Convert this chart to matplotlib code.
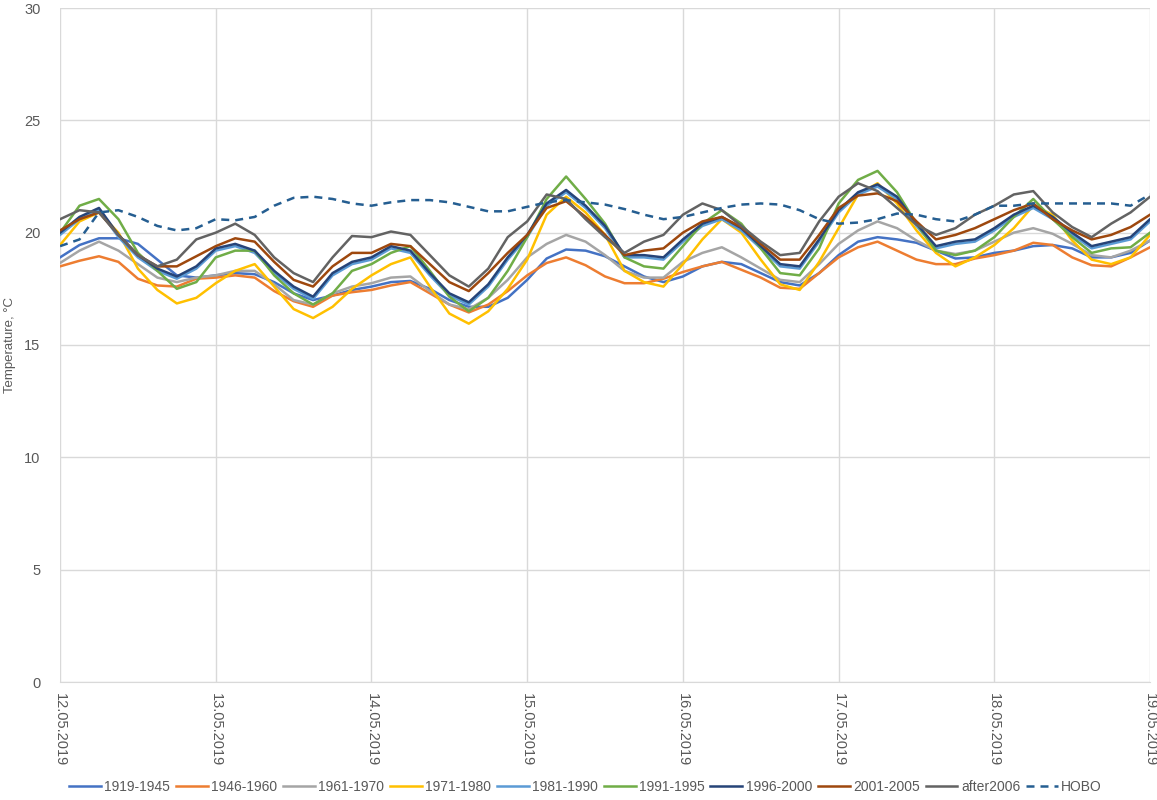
import numpy as np
import pandas as pd
import matplotlib
matplotlib.use("Agg")
import matplotlib.pyplot as plt

plt.rcParams["font.family"] = ["Liberation Sans", "DejaVu Sans"]

# ---------------- Data (3-hourly readings, 12.05.2019 00:00 -> 19.05.2019 00:00) ----------------
times = pd.date_range("2019-05-12 00:00", "2019-05-19 00:00", freq="3h")

t_1919_1945 = [18.9, 19.45, 19.75, 19.75, 19.5, 18.8, 18.1, 18.0, 18.1, 18.2, 18.15, 17.8, 17.3, 17.0, 17.2,
               17.45, 17.6, 17.8, 17.85, 17.5, 17.0, 16.7, 16.7, 17.1, 17.9, 18.85, 19.25, 19.2, 18.95, 18.5,
               18.05, 17.8, 18.05, 18.5, 18.7, 18.6, 18.2, 17.8, 17.65, 18.2, 19.0, 19.6, 19.8, 19.7, 19.55,
               19.2, 18.85, 18.9, 19.1, 19.2, 19.4, 19.45, 19.3, 18.9, 18.9, 19.1, 19.65]
t_1946_1960 = [18.5, 18.75, 18.95, 18.7, 17.95, 17.65, 17.6, 17.95, 18.0, 18.1, 18.0, 17.4, 16.95, 16.7, 17.2,
               17.35, 17.45, 17.65, 17.8, 17.3, 16.8, 16.45, 16.8, 17.4, 18.1, 18.65, 18.9, 18.55, 18.05, 17.75,
               17.75, 17.95, 18.25, 18.5, 18.7, 18.35, 18.0, 17.55, 17.5, 18.2, 18.9, 19.35, 19.6, 19.2, 18.8,
               18.6, 18.6, 18.85, 19.0, 19.2, 19.55, 19.45, 18.9, 18.55, 18.5, 18.9, 19.35]
t_1961_1970 = [18.65, 19.2, 19.6, 19.2, 18.6, 18.0, 17.8, 18.0, 18.1, 18.3, 18.3, 17.7, 17.0, 16.8, 17.3,
               17.6, 17.75, 18.0, 18.05, 17.4, 16.8, 16.6, 17.1, 17.9, 18.9, 19.5, 19.9, 19.6, 19.0, 18.3,
               18.0, 18.0, 18.7, 19.1, 19.35, 18.9, 18.4, 17.9, 17.8, 18.6, 19.5, 20.1, 20.5, 20.2, 19.65,
               19.2, 19.05, 19.2, 19.6, 20.0, 20.2, 19.95, 19.5, 19.0, 18.9, 19.2, 19.65]
t_1971_1980 = [19.45, 20.5, 20.9, 20.0, 18.4, 17.45, 16.85, 17.1, 17.75, 18.3, 18.6, 17.6, 16.6, 16.2, 16.7,
               17.5, 18.1, 18.6, 18.9, 17.6, 16.4, 15.95, 16.5, 17.5, 18.8, 20.8, 21.6, 20.9, 19.9, 18.3,
               17.8, 17.6, 18.6, 19.7, 20.6, 20.0, 18.8, 17.7, 17.45, 18.7, 20.2, 21.7, 22.2, 21.3, 20.1,
               19.1, 18.5, 18.9, 19.45, 20.2, 21.2, 20.8, 19.65, 18.8, 18.6, 18.9, 19.9]
t_1981_1990 = [19.9, 20.6, 21.0, 19.8, 18.9, 18.3, 17.95, 18.4, 19.2, 19.4, 19.1, 18.2, 17.5, 17.05, 18.1,
               18.6, 18.8, 19.3, 19.1, 18.1, 17.2, 16.8, 17.6, 18.8, 19.8, 21.2, 21.8, 21.1, 20.2, 18.9,
               18.9, 18.8, 19.6, 20.3, 20.6, 20.1, 19.3, 18.5, 18.4, 19.6, 20.9, 21.7, 22.05, 21.5, 20.3,
               19.3, 19.5, 19.6, 20.1, 20.7, 21.1, 20.6, 19.9, 19.3, 19.5, 19.7, 20.5]
t_1991_1995 = [20.0, 21.2, 21.5, 20.6, 19.1, 18.3, 17.5, 17.8, 18.9, 19.2, 19.2, 18.1, 17.3, 16.8, 17.3,
               18.3, 18.6, 19.1, 19.4, 18.3, 17.15, 16.5, 17.1, 18.3, 19.8, 21.5, 22.5, 21.5, 20.4, 18.9,
               18.5, 18.4, 19.4, 20.4, 21.0, 20.4, 19.3, 18.2, 18.1, 19.3, 21.3, 22.35, 22.75, 21.8, 20.4,
               19.2, 19.0, 19.2, 19.8, 20.7, 21.5, 20.6, 19.8, 19.1, 19.3, 19.35, 20.0]
t_1996_2000 = [20.0, 20.7, 21.1, 19.9, 19.0, 18.4, 18.05, 18.5, 19.3, 19.5, 19.2, 18.3, 17.6, 17.15, 18.2,
               18.7, 18.9, 19.4, 19.2, 18.2, 17.3, 16.9, 17.7, 18.9, 19.9, 21.3, 21.9, 21.2, 20.3, 19.0,
               19.0, 18.9, 19.7, 20.4, 20.7, 20.2, 19.4, 18.6, 18.5, 19.7, 21.0, 21.8, 22.15, 21.6, 20.4,
               19.4, 19.6, 19.7, 20.2, 20.8, 21.2, 20.7, 20.0, 19.4, 19.6, 19.8, 20.6]
t_2001_2005 = [20.1, 20.6, 20.9, 19.9, 19.0, 18.5, 18.5, 18.95, 19.4, 19.75, 19.6, 18.7, 17.9, 17.6, 18.5,
               19.1, 19.1, 19.5, 19.4, 18.6, 17.8, 17.4, 18.2, 19.1, 19.9, 21.1, 21.4, 20.7, 19.9, 19.0,
               19.2, 19.3, 20.0, 20.5, 20.7, 20.25, 19.5, 18.8, 18.8, 19.9, 21.1, 21.65, 21.75, 21.4, 20.5,
               19.7, 19.9, 20.2, 20.6, 21.0, 21.3, 20.6, 20.1, 19.7, 19.9, 20.25, 20.8]
t_after2006 = [20.6, 21.0, 20.9, 19.9, 19.0, 18.5, 18.8, 19.7, 20.0, 20.4, 19.9, 18.9, 18.2, 17.8, 18.9,
               19.85, 19.8, 20.05, 19.9, 19.0, 18.1, 17.6, 18.4, 19.8, 20.5, 21.7, 21.5, 20.6, 19.8, 19.1,
               19.6, 19.9, 20.8, 21.3, 21.0, 20.3, 19.6, 19.0, 19.1, 20.5, 21.6, 22.2, 21.85, 21.1, 20.35,
               19.9, 20.2, 20.8, 21.2, 21.7, 21.85, 20.9, 20.25, 19.8, 20.4, 20.9, 21.6]
t_hobo = [19.4, 19.7, 20.9, 21.0, 20.7, 20.3, 20.1, 20.2, 20.6, 20.55, 20.7, 21.2, 21.55, 21.6, 21.5,
          21.3, 21.2, 21.35, 21.45, 21.45, 21.35, 21.15, 20.95, 20.95, 21.15, 21.35, 21.45, 21.35, 21.25, 21.05,
          20.8, 20.6, 20.7, 20.9, 21.1, 21.25, 21.3, 21.25, 21.0, 20.6, 20.4, 20.45, 20.6, 20.85, 20.8,
          20.6, 20.5, 20.8, 21.2, 21.2, 21.3, 21.3, 21.3, 21.3, 21.3, 21.2, 21.7]

labels = ["1919-1945", "1946-1960", "1961-1970", "1971-1980", "1981-1990",
          "1991-1995", "1996-2000", "2001-2005", "after2006", "HOBO"]
series = [t_1919_1945, t_1946_1960, t_1961_1970, t_1971_1980, t_1981_1990,
          t_1991_1995, t_1996_2000, t_2001_2005, t_after2006, t_hobo]
colors = ["#4472C4", "#ED7D31", "#A5A5A5", "#FFC000", "#5B9BD5",
          "#70AD47", "#264478", "#9E480E", "#636363", "#255E91"]

day_ticks = pd.date_range("2019-05-12", "2019-05-19", freq="D")

# ---------------- Plot ----------------
fig = plt.figure(figsize=(11.57, 8.0), dpi=100)
ax = fig.add_axes([0.0519, 0.1475, 0.9421, 0.8425])

for vals, lab, col in zip(series, labels, colors):
    if lab == "HOBO":
        ax.plot(times, vals, color=col, lw=1.8, ls=(0, (3.2, 2.4)), label=lab)
    else:
        ax.plot(times, vals, color=col, lw=1.8, label=lab)

ax.set_ylim(0, 30)
ax.set_yticks(range(0, 31, 5))
ax.set_xlim(day_ticks[0], day_ticks[-1])
ax.set_xticks(day_ticks)
ax.set_xticklabels([d.strftime("%d.%m.%Y") for d in day_ticks], rotation=270,
                   va="top", ha="center")

ax.grid(True, color="#D9D9D9", lw=1.0)
ax.set_axisbelow(True)
for s in ["left", "right", "top"]:
    ax.spines[s].set_visible(False)
ax.spines["bottom"].set_color("#D9D9D9")
ax.tick_params(length=0, colors="#595959", labelsize=10.5)
ax.tick_params(axis="x", pad=8)
ax.tick_params(axis="y", pad=14)
ax.set_ylabel("Temperature, °C", color="#595959", fontsize=9.5, labelpad=6)

fig.legend(loc="center", bbox_to_anchor=(0.506, 0.016), ncol=10, frameon=False,
           fontsize=10, handlelength=2.3, handletextpad=0.25, columnspacing=0.4,
           labelcolor="#595959")

fig.savefig("out.png", dpi=100)
